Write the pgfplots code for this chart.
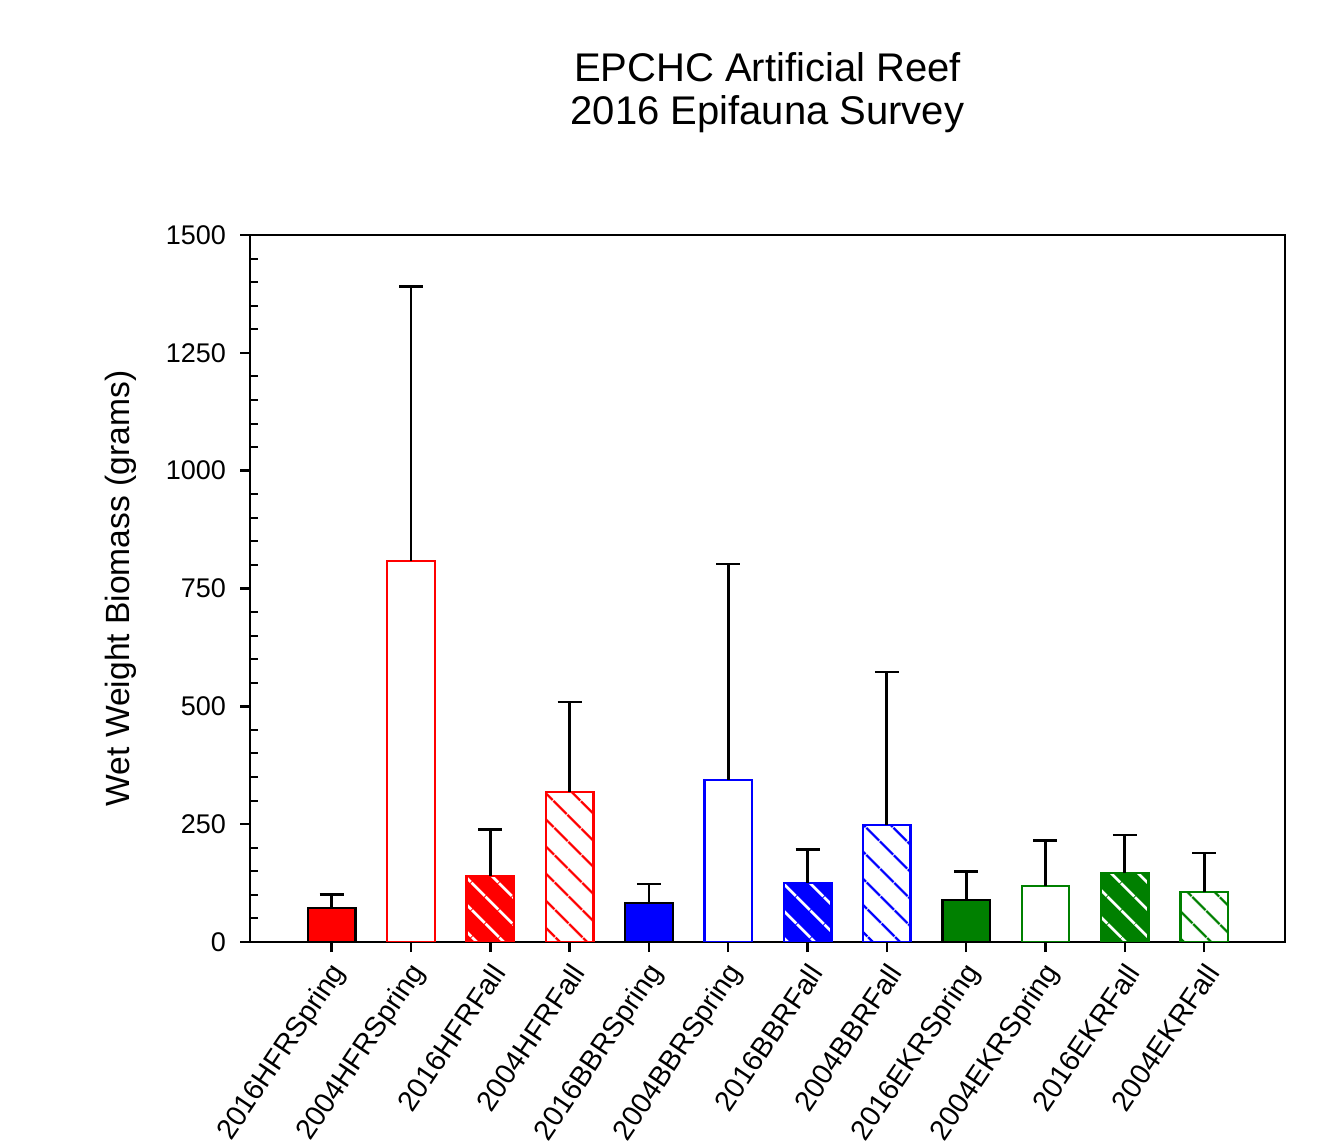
\documentclass[border=0pt]{standalone}
\usepackage{fontspec}
\setmainfont{Liberation Sans}
\usepackage{pgfplots}
\pgfplotsset{compat=1.18}
\usetikzlibrary{patterns.meta}
\definecolor{dgreen}{RGB}{0,128,0}
\pgfplotsset{
  bar/.style={ybar, bar width=0.6, bar shift=0pt, line width=1.2bp},
  hatch/.style={pattern={Lines[angle=-45,distance=10bp,line width=1.3bp]}, pattern color=#1},
  whitehatch/.style={postaction={pattern={Lines[angle=-45,distance=10bp,line width=1.5bp]}, pattern color=white}},
  errbar/.style={error bars/.cd, y dir=plus, y explicit,
    error bar style={black, line width=1.4bp},
    error mark options={black, line width=1.4bp, mark size=6bp, rotate=90}},
}
\begin{document}
\begin{tikzpicture}
\useasboundingbox (0,0) rectangle (660bp,571.5bp);
\begin{axis}[
  at={(125bp,100.5bp)}, anchor=south west,
  scale only axis, width=517.5bp, height=353.5bp,
  xmin=-1.03, xmax=12.02, ymin=0, ymax=1500,
  ytick={0,250,...,1500}, minor y tick num=4,
  xtick={0,...,11},
  xticklabels={2016HFRSpring,2004HFRSpring,2016HFRFall,2004HFRFall,2016BBRSpring,2004BBRSpring,2016BBRFall,2004BBRFall,2016EKRSpring,2004EKRSpring,2016EKRFall,2004EKRFall},
  xtick pos=lower, ytick pos=lower,
  tick align=outside,
  major tick length=5bp, minor tick length=4bp,
  major tick style={black, line width=1.2bp},
  minor tick style={black, line width=1bp, xshift=4bp},
  axis line style={line width=1.3bp},
  /pgf/number format/assume math mode=true,
  /pgf/number format/1000 sep={},
  yticklabel style={font=\fontsize{13.5bp}{16bp}\selectfont, xshift=-3.5bp},
  xticklabel style={font=\fontsize{14.3bp}{17bp}\selectfont, xshift=6bp, yshift=-5bp, rotate=56, anchor=east},
  title={EPCHC Artificial Reef\\2016 Epifauna Survey},
  title style={at={(axis description cs:0.5,1.184)}, anchor=center, align=center, font=\fontsize{20bp}{21.5bp}\selectfont},
  ylabel={Wet Weight Biomass (grams)},
  ylabel style={at={(axis description cs:-0.1246,0.5)}, anchor=center, font=\fontsize{16.8bp}{20bp}\selectfont},
]
% HFR
\addplot[bar, fill=red, draw=black, errbar] coordinates {(0,72) +- (0,28)};
\addplot[bar, fill=white, draw=red, errbar] coordinates {(1,808) +- (0,582)};
\addplot[bar, fill=red, draw=red, whitehatch, errbar] coordinates {(2,140) +- (0,98)};
\addplot[bar, draw=red, hatch=red, errbar] coordinates {(3,318) +- (0,191)};
% BBR
\addplot[bar, fill=blue, draw=black, errbar] coordinates {(4,83) +- (0,40)};
\addplot[bar, fill=white, draw=blue, errbar] coordinates {(5,344) +- (0,458)};
\addplot[bar, fill=blue, draw=blue, whitehatch, errbar] coordinates {(6,125) +- (0,72)};
\addplot[bar, draw=blue, hatch=blue, errbar] coordinates {(7,248) +- (0,325)};
% EKR
\addplot[bar, fill=dgreen, draw=black, errbar] coordinates {(8,89) +- (0,60)};
\addplot[bar, fill=white, draw=dgreen, errbar] coordinates {(9,119) +- (0,97)};
\addplot[bar, fill=dgreen, draw=dgreen, whitehatch, errbar] coordinates {(10,146) +- (0,81)};
\addplot[bar, draw=dgreen, hatch=dgreen, errbar] coordinates {(11,106) +- (0,83)};
\end{axis}
\end{tikzpicture}
\end{document}
